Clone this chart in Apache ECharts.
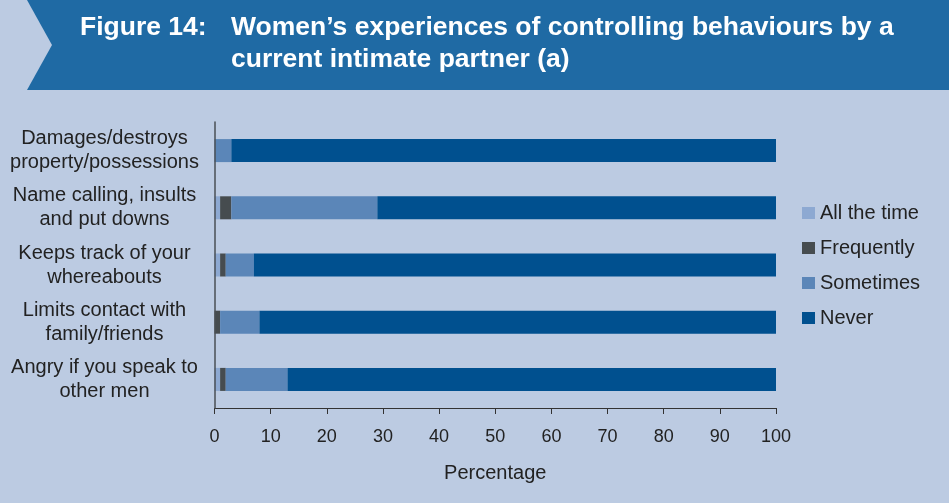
<!DOCTYPE html>
<html><head><meta charset="utf-8">
<script src="https://cdn.jsdelivr.net/npm/echarts@6/dist/echarts.min.js"></script>
<style>html,body{margin:0;padding:0;background:#BCCBE2}#c{width:949px;height:503px}</style>
</head><body><div id="c"></div>
<script>
const categories = ["Damages/destroys\nproperty/possessions","Name calling, insults\nand put downs","Keeps track of your\nwhereabouts","Limits contact with\nfamily/friends","Angry if you speak to\nother men"];
const allTheTime = [0, 1, 1, 0, 1];
const frequently = [0, 2, 1, 1, 1];
const sometimes = [3, 26, 5, 7, 11];
const never = [97, 71, 93, 92, 87];
const xTicks = [0,10,20,30,40,50,60,70,80,90,100];
const seriesNames = ["All the time","Frequently","Sometimes","Never"];
const colors = ["#8DA9D2","#464C4F","#5B86B8","#00508F"];
const FONT = "Liberation Sans, Arial, sans-serif";
const chart = echarts.init(document.getElementById('c'), null, {renderer:'canvas'});
const dataSets = [allTheTime, frequently, sometimes, never];
chart.setOption({
  backgroundColor: '#BCCBE2',
  animation: false,
  graphic: [
    {type:'rect', shape:{x:0,y:0,width:949,height:90}, style:{fill:'#1F6AA4'}, z:0},
    {type:'polygon', shape:{points:[[0,0],[27,0],[52,45],[27,90],[0,90]]}, style:{fill:'#BCCBE2'}, z:1},
    {type:'text', x:80, y:28, style:{text:'Figure 14:', fill:'#fff', font:'bold 26.5px '+FONT, verticalAlign:'middle'}, z:2},
    {type:'text', x:231, y:28, style:{text:'Women\u2019s experiences of controlling behaviours by a', fill:'#fff', font:'bold 26.5px '+FONT, verticalAlign:'middle'}, z:2},
    {type:'text', x:231, y:60, style:{text:'current intimate partner (a)', fill:'#fff', font:'bold 26.5px '+FONT, verticalAlign:'middle'}, z:2}
  ],
  grid: {left:214.5, right:173, top:122, bottom:95, containLabel:false},
  legend: {
    orient:'vertical', left:797, top:198, itemWidth:13, itemHeight:12, itemGap:15,
    icon:'rect', data: seriesNames,
    textStyle:{fontSize:20, color:'#222', fontFamily:FONT}
  },
  xAxis: {
    type:'value', min:0, max:100, interval:10,
    name:'Percentage', nameLocation:'middle', nameGap:55,
    nameTextStyle:{fontSize:20, color:'#222', fontFamily:FONT},
    axisLine:{show:true, lineStyle:{color:'#333', width:1}},
    axisTick:{show:true, length:6, lineStyle:{color:'#333'}},
    axisLabel:{fontSize:18, color:'#222', fontFamily:FONT, margin:20},
    splitLine:{show:false}
  },
  yAxis: {
    type:'category', data:categories, inverse:true, z:5,
    axisLine:{show:true, lineStyle:{color:'#4a4f55', width:1.5}},
    axisTick:{show:false},
    axisLabel:{fontSize:20, color:'#222', fontFamily:FONT, align:'center', margin:110, lineHeight:24}
  },
  series: seriesNames.map((n,i)=>({
    name:n, type:'bar', stack:'t', barWidth:23,
    itemStyle:{color:colors[i]},
    data:dataSets[i]
  }))
});
</script></body></html>
